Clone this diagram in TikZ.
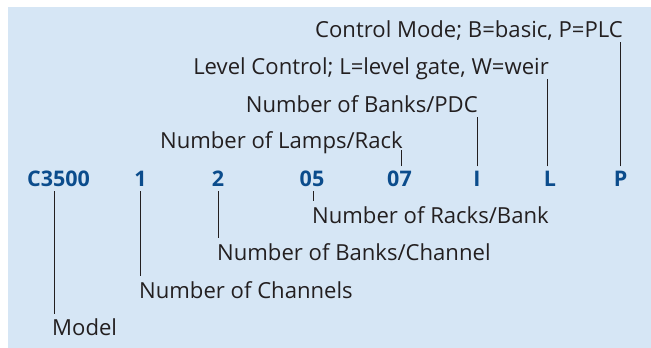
\documentclass[tikz,border=0pt]{standalone}
\usepackage{fontspec}
\setmainfont{Open Sans}
\definecolor{bg}{HTML}{D6E6F5}
\definecolor{codeblue}{HTML}{0B4C8C}
\definecolor{txt}{HTML}{231F20}
\begin{document}
\begin{tikzpicture}[x=1pt,y=-1pt,
  lab/.style={inner sep=0pt, text=txt, font=\fontsize{22.1}{26}\selectfont},
  codetxt/.style={inner sep=0pt, text=codeblue, font=\fontsize{21.5}{25}\selectfont\bfseries, anchor=base},
  lead/.style={draw=txt, line width=0.9pt}]
\useasboundingbox (0,0) rectangle (651,348);
\fill[bg] (8,7) rectangle (651,348);
% code row
\node[codetxt] (cm) at (58.5,186) {C3500};
\node[codetxt] (c1) at (140.5,186) {1};
\node[codetxt] (c2) at (218,186) {2};
\node[codetxt] (c5) at (312,186) {05};
\node[codetxt] (c7) at (399.5,186) {07};
\node[codetxt] (ci) at (477,186) {I};
\node[codetxt] (cl) at (550,186) {L};
\node[codetxt] (cp) at (620.5,186) {P};
% upper labels
\node[lab, anchor=base east] (tctrl) at (623,37) {Control Mode; B=basic, P=PLC};
\node[lab, anchor=base east] (tlev) at (549,74) {Level Control; L=level gate, W=weir};
\node[lab, anchor=base east] (tpdc) at (478,112) {Number of Banks/PDC};
\node[lab, anchor=base east] (tlamp) at (403,148) {Number of Lamps/Rack};
% lower labels
\node[lab, anchor=base west] (track) at (312,223) {Number of Racks/Bank};
\node[lab, anchor=base west] (tbch) at (217,260) {Number of Banks/Channel};
\node[lab, anchor=base west] (tch) at (139,298) {Number of Channels};
\node[lab, anchor=base west] (tmod) at (52,335) {Model};
% upper leaders
\draw[lead] ([xshift=-0.5pt,yshift=4pt]cp.north) -- ([xshift=-0.5pt,yshift=-5pt]cp.north |- tctrl.base);
\draw[lead] ([xshift=-3pt,yshift=4pt]cl.north) -- ([xshift=-3pt,yshift=-5pt]cl.north |- tlev.base);
\draw[lead] ([yshift=4pt]ci.north) -- ([yshift=-5pt]ci.north |- tpdc.base);
\draw[lead] ([xshift=1.5pt,yshift=4pt]c7.north) -- ([xshift=1.5pt,yshift=-2pt]c7.north |- tlamp.base);
% lower leaders
\draw[lead] ([xshift=1pt,yshift=-5pt]c5.base) -- ([xshift=1pt,yshift=5pt]c5.base |- track.north);
\draw[lead] ([yshift=-5pt]c2.base) -- ([yshift=5pt]c2.base |- tbch.north);
\draw[lead] ([yshift=-5pt]c1.base) -- ([yshift=5pt]c1.base |- tch.north);
\draw[lead] ([xshift=-4.5pt,yshift=-5pt]cm.base) -- ([xshift=-4.5pt,yshift=4pt]cm.base |- tmod.north);
\end{tikzpicture}
\end{document}
